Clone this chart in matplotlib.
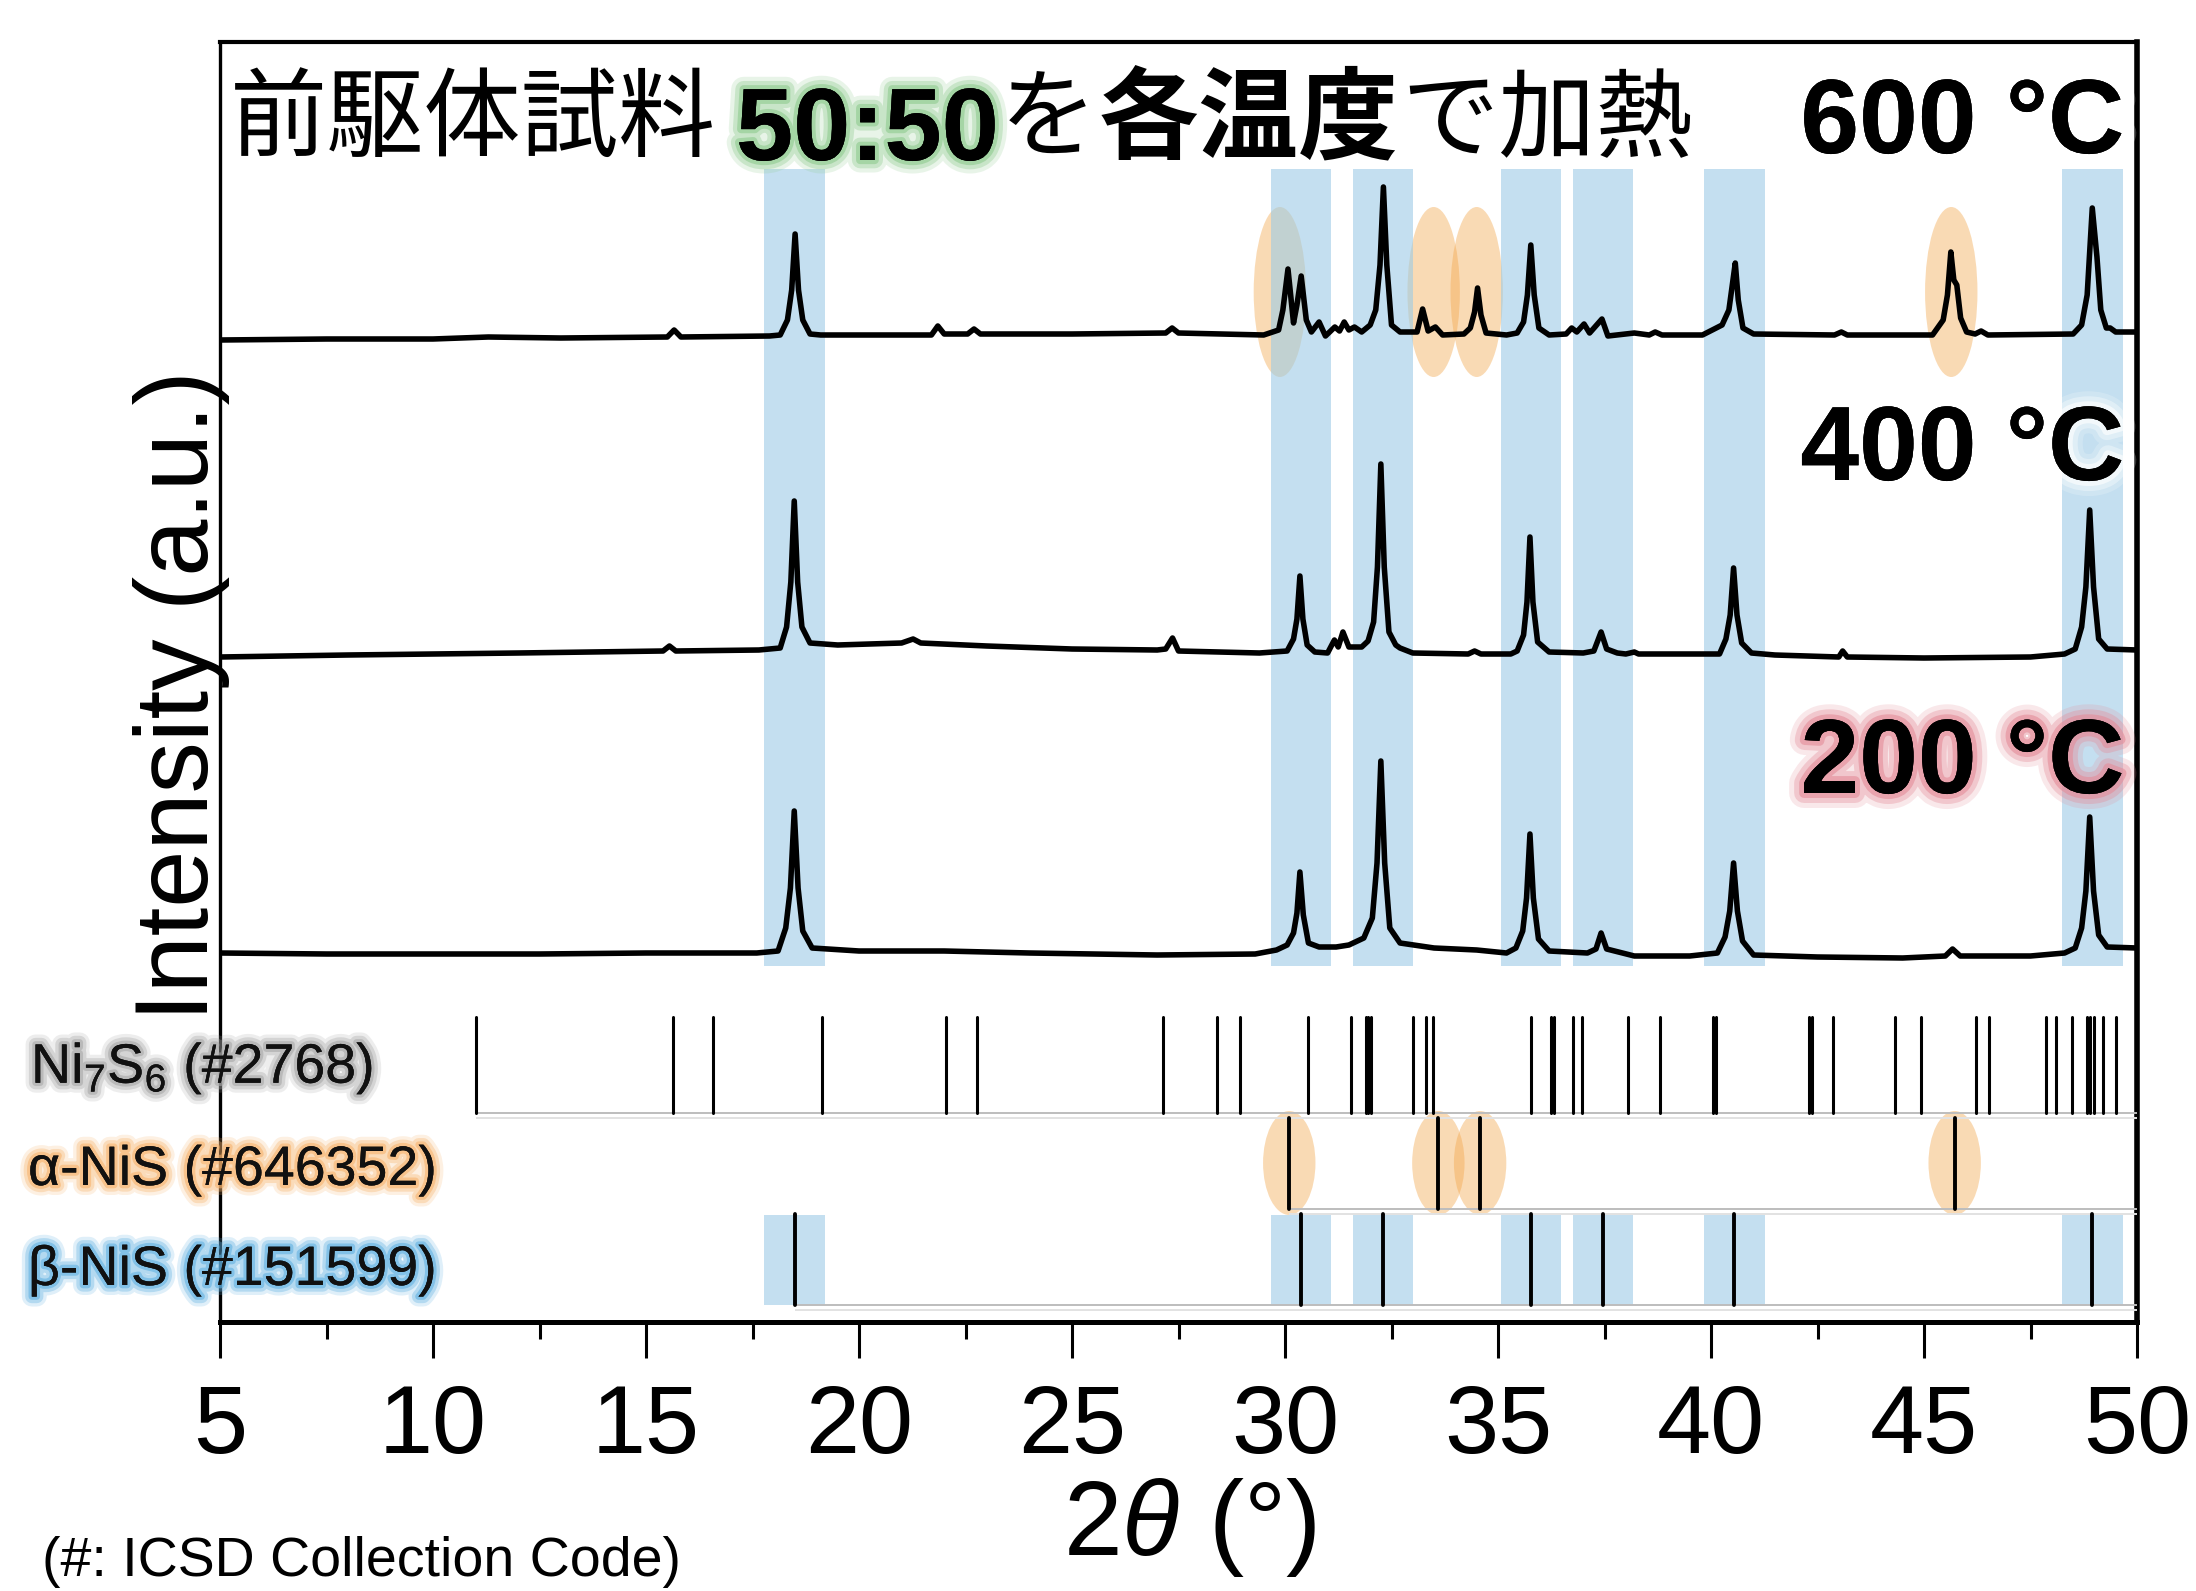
import numpy as np
import matplotlib.pyplot as plt
import matplotlib.patheffects as pe
from matplotlib.patches import Ellipse

plt.rcParams['font.family'] = ['Liberation Sans', 'Noto Sans CJK JP', 'DejaVu Sans']
plt.rcParams['mathtext.fontset'] = 'custom'
plt.rcParams['mathtext.rm'] = 'Liberation Sans'
plt.rcParams['mathtext.it'] = 'Liberation Sans:italic'
plt.rcParams['mathtext.bf'] = 'Liberation Sans:bold'

# XRD patterns (2theta, intensity above own baseline)
pattern_600 = [
    (5.0, 0), (7.5, 1), (10.0, 1), (11.3, 3), (13.0, 2), (15.5, 3), (15.66, 10), (15.82, 3), (17.9, 4),
    (18.15, 5), (18.32, 20), (18.42, 50), (18.50, 106), (18.58, 50), (18.68, 20), (18.85, 6),
    (19.1, 5), (21.7, 5), (21.85, 14), (22.0, 6), (22.55, 6), (22.70, 11), (22.85, 6), (25.0, 6),
    (27.2, 7), (27.35, 12), (27.5, 7), (29.5, 5), (29.85, 10),
    (29.95, 30), (30.07, 71), (30.2, 17), (30.28, 35), (30.38, 64), (30.5, 20), (30.62, 8),
    (30.80, 18), (30.95, 4), (31.17, 13), (31.28, 9), (31.39, 18), (31.5, 10), (31.63, 13), (31.8, 8),
    (32.0, 15), (32.13, 30), (32.23, 75), (32.31, 153), (32.39, 75), (32.5, 15), (32.7, 8),
    (33.1, 8), (33.23, 31), (33.36, 9), (33.53, 13), (33.7, 5), (34.2, 6),
    (34.35, 12), (34.45, 28), (34.52, 52), (34.6, 25), (34.72, 7), (35.2, 5),
    (35.45, 7), (35.6, 18), (35.69, 45), (35.77, 95), (35.85, 45), (35.96, 12), (36.2, 5),
    (36.6, 6), (36.73, 12), (36.85, 8), (37.02, 16), (37.15, 7), (37.44, 21), (37.58, 4),
    (38.2, 7), (38.55, 5), (38.69, 8), (38.85, 5), (39.8, 5), (40.26, 15),
    (40.42, 30), (40.5, 55), (40.57, 77), (40.64, 40), (40.75, 12), (41.0, 6),
    (42.9, 5), (43.06, 8), (43.2, 5), (45.2, 5),
    (45.45, 20), (45.55, 45), (45.63, 88), (45.7, 60), (45.77, 55), (45.86, 22), (46.0, 8),
    (46.2, 6), (46.34, 9), (46.5, 5), (48.5, 6),
    (48.7, 15), (48.83, 45), (48.95, 132), (49.06, 83), (49.15, 30), (49.28, 12), (49.37, 12),
    (49.5, 8), (50.0, 8),
]

pattern_400 = [
    (5.0, 0), (8.0, 2), (12.0, 4), (15.4, 6), (15.55, 11), (15.7, 6), (17.65, 7),
    (18.15, 9), (18.3, 30), (18.4, 75), (18.48, 156), (18.56, 75), (18.66, 30), (18.85, 14),
    (19.5, 12), (21.0, 14), (21.27, 18), (21.45, 14), (23.0, 11), (25.0, 8), (27.0, 7),
    (27.2, 8), (27.36, 19), (27.5, 6), (29.4, 4),
    (30.05, 6), (30.2, 18), (30.28, 38), (30.35, 81), (30.42, 38), (30.52, 12), (30.7, 5),
    (31.0, 4), (31.16, 17), (31.25, 10), (31.36, 25), (31.5, 10), (31.8, 10),
    (31.95, 16), (32.08, 35), (32.17, 90), (32.25, 193), (32.33, 90), (32.44, 25), (32.6, 12),
    (32.7, 9), (33.0, 4), (34.3, 3), (34.45, 6), (34.6, 3), (35.3, 3),
    (35.45, 6), (35.6, 22), (35.68, 55), (35.75, 120), (35.82, 55), (35.93, 15), (36.2, 5),
    (37.0, 4), (37.25, 6), (37.42, 25), (37.55, 8), (37.8, 4), (38.0, 3), (38.2, 5), (38.3, 3),
    (40.2, 3), (40.35, 18), (40.45, 42), (40.53, 89), (40.61, 42), (40.72, 14), (40.95, 4),
    (41.5, 2), (43.0, 0), (43.09, 6), (43.2, 0), (45.0, -1), (47.5, 0), (48.3, 3),
    (48.55, 8), (48.7, 30), (48.8, 70), (48.89, 147), (48.98, 70), (49.1, 18), (49.3, 8),
    (50.0, 7),
]

pattern_200 = [
    (5.0, 0), (7.5, -1), (10.0, -1), (12.5, -1), (15.0, 0), (17.6, 0),
    (18.1, 2), (18.28, 25), (18.39, 65), (18.48, 142), (18.57, 65), (18.68, 22), (18.9, 5),
    (20.0, 2), (22.0, 2), (24.0, 0), (27.0, -2), (29.3, -1), (29.8, 3),
    (30.05, 8), (30.2, 20), (30.28, 40), (30.35, 81), (30.43, 38), (30.55, 10), (30.8, 6),
    (31.2, 6), (31.5, 8),
    (31.85, 15), (32.05, 35), (32.16, 90), (32.25, 192), (32.34, 90), (32.46, 25), (32.7, 10),
    (33.5, 5), (34.5, 3), (35.2, 0),
    (35.42, 5), (35.58, 22), (35.67, 55), (35.75, 119), (35.83, 55), (35.95, 14), (36.2, 2),
    (37.1, 0), (37.3, 4), (37.42, 20), (37.55, 4), (38.2, -3), (39.5, -3),
    (40.15, 0), (40.33, 16), (40.44, 42), (40.53, 90), (40.62, 42), (40.74, 12), (41.0, -2),
    (42.5, -4), (44.5, -5), (45.5, -3), (45.67, 4), (45.85, -3), (47.5, -3), (48.3, 0),
    (48.55, 5), (48.7, 25), (48.8, 62), (48.89, 136), (48.98, 62), (49.1, 18), (49.3, 6),
    (50.0, 5),
]

temps = ['600 °C', '400 °C', '200 °C']
offsets = [982, 665, 369]

# reference line positions (ICSD)
ni7s6_lines = [11.0, 15.64, 16.57, 19.14, 22.05, 22.78, 27.13, 28.40, 28.95, 30.53, 31.55,
               31.89, 31.96, 32.02, 33.01, 33.30, 33.48, 35.78, 36.24, 36.31, 36.77, 36.98,
               38.05, 38.80, 40.05, 40.11, 42.31, 42.38, 42.87, 44.31, 44.92, 46.23, 46.53,
               47.86, 48.10, 48.47, 48.83, 48.89, 48.99, 49.20, 49.50]
alpha_lines = [30.10, 33.60, 34.58, 45.72]
beta_lines = [18.49, 30.37, 32.30, 35.78, 37.47, 40.55, 48.95]
alpha_marks_top = [29.88, 33.49, 34.50, 45.64]

ref_labels = ['Ni$_7$S$_6$ (#2768)', 'α-NiS (#646352)', 'β-NiS (#151599)']
xticks = [5, 10, 15, 20, 25, 30, 35, 40, 45, 50]
minor_ticks = [7.5, 12.5, 17.5, 22.5, 27.5, 32.5, 37.5, 42.5, 47.5]

W, H = 2196, 1591
fig = plt.figure(figsize=(W / 200, H / 200), dpi=200)
ax = fig.add_axes([220 / W, 1 - 1322 / H, (2137 - 220) / W, (1322 - 42) / H])
ax.set_xlim(5, 50)
ax.set_ylim(0, 1280)

band_c = '#9DCBE6'
orange = '#F3A74C'

def glow(c, s=1.0):
    return [pe.withStroke(linewidth=9 * s, foreground=c, alpha=0.2),
            pe.withStroke(linewidth=6 * s, foreground=c, alpha=0.35),
            pe.withStroke(linewidth=3 * s, foreground=c, alpha=0.6),
            pe.Normal()]

# orange highlights for alpha-NiS
for p in alpha_marks_top:
    ax.add_patch(Ellipse((p, 1030), 1.23, 170, color=orange, alpha=0.42, lw=0, zorder=1))
for p in alpha_lines:
    ax.add_patch(Ellipse((p, 159), 1.23, 104, color=orange, alpha=0.42, lw=0, zorder=1))

# blue bands for beta-NiS
for p in beta_lines:
    ax.fill_between([p - 0.71, p + 0.71], 356, 1153, color=band_c, alpha=0.6, lw=0, zorder=2)
    ax.fill_between([p - 0.71, p + 0.71], 17, 107, color=band_c, alpha=0.6, lw=0, zorder=2)

# patterns
for pat, off in zip([pattern_600, pattern_400, pattern_200], offsets):
    tt, inten = np.array(pat).T
    ax.plot(tt, inten + off, color='black', lw=2.0, zorder=4, solid_joinstyle='round')

# reference sticks
rows = [(ni7s6_lines, 209, 305, 1.1), (alpha_lines, 113, 204, 1.4), (beta_lines, 17, 108, 1.4)]
for lines, y0, y1, lw in rows:
    ax.hlines(y0, lines[0], 50, color='#BDBDBD', lw=0.7, zorder=3)
    ax.hlines(y0 - 5, lines[0], 50, color='#E2E2E2', lw=0.7, zorder=3)
    ax.vlines(lines, y0, y1, color='black', lw=lw, zorder=4, capstyle='round')

ax.set_yticks([])
ax.set_xticks(xticks)
ax.set_xticks(minor_ticks, minor=True)
ax.tick_params(axis='x', which='major', direction='out', length=13, width=1.1, pad=9, labelsize=35)
ax.tick_params(axis='x', which='minor', direction='out', length=6, width=1.1)
ax.spines['left'].set_linewidth(1.2)
ax.spines['top'].set_linewidth(1.5)
ax.spines['right'].set_linewidth(2.0)
ax.spines['bottom'].set_linewidth(1.8)

def fx(x):
    return x / W

def fy(y):
    return 1 - y / H

# title pieces
jp = 'Noto Sans CJK JP'
fig.text(fx(230), fy(150), '前駆体試料', family=jp, fontsize=35, va='baseline', zorder=6)
fig.text(fx(736), fy(160), '50:50', fontsize=37, fontweight='bold', va='baseline',
         path_effects=glow('#8FCB8F'), zorder=6)
fig.text(fx(1000), fy(150), 'を', family=jp, fontsize=35, va='baseline', zorder=6)
fig.text(fx(1099), fy(150), '各温度', family=jp, fontsize=36, fontweight='bold', va='baseline', zorder=6)
fig.text(fx(1401), fy(150), 'で加熱', family=jp, fontsize=35, va='baseline', zorder=6)

# temperature labels
temp_glow = ['#FFFFFF', '#FFFFFF', '#E48C98']
temp_base = [153, 480, 793]
for lab, c, yb in zip(temps, temp_glow, temp_base):
    fig.text(fx(2124), fy(yb), lab, fontsize=38, fontweight='bold', ha='right', va='baseline',
             path_effects=glow(c, 1.2), zorder=6)

# reference labels
ref_glow = ['#A8A8A8', '#F7B46E', '#62B2E2']
ref_base = [1083, 1185, 1285]
ref_x = [31, 28, 28]
for lab, c, yb, x in zip(ref_labels, ref_glow, ref_base, ref_x):
    fig.text(fx(x), fy(yb), lab, fontsize=20, va='baseline', color='#111111',
             path_effects=glow(c, 0.8), zorder=6)

fig.text(fx(1190), fy(1555), '2$\\theta$ (°)', fontsize=38, ha='center', va='baseline')
fig.text(fx(182), fy(696), 'Intensity (a.u.)', fontsize=37, rotation=90, ha='center', va='center')
fig.text(fx(42), fy(1576), '(#: ICSD Collection Code)', fontsize=20, va='baseline')

fig.savefig('out.png', dpi=200)
